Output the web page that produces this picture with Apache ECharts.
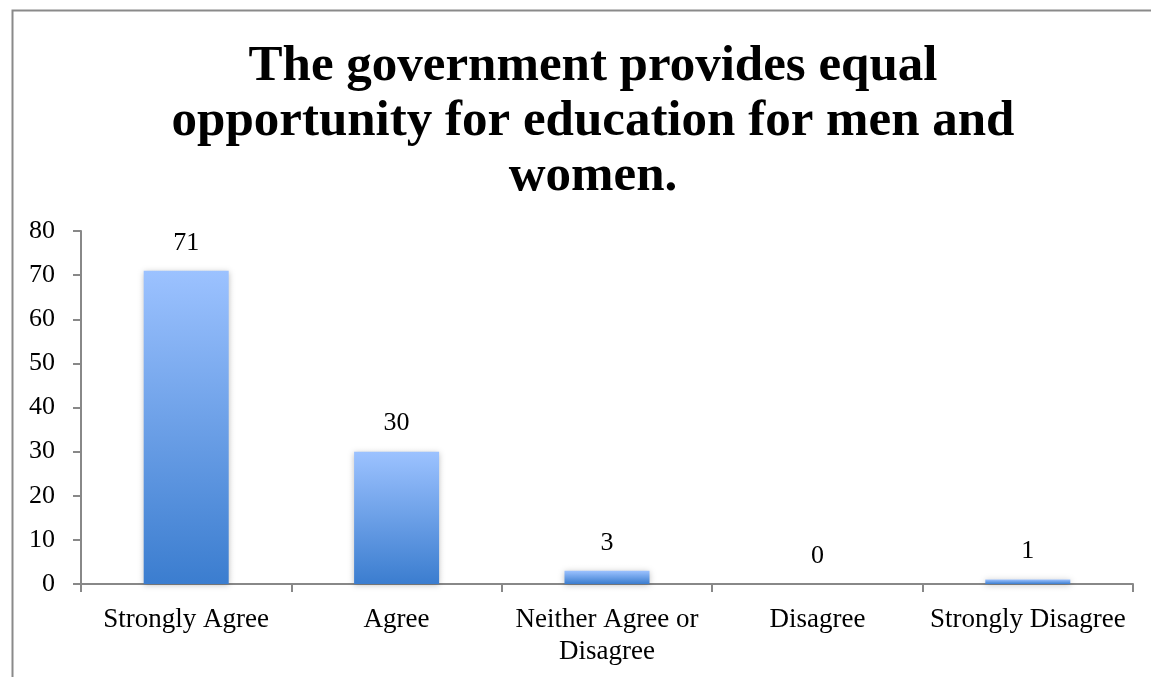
<!DOCTYPE html>
<html>
<head>
<meta charset="utf-8">
<script src="https://cdn.jsdelivr.net/npm/echarts@6/dist/echarts.min.js"></script>
<style>
  html, body { margin: 0; padding: 0; background: #fff; }
  #chart { width: 1151px; height: 677px; }
</style>
</head>
<body>
<div id="chart"></div>
<script>
// Survey responses
const categories = ['Strongly Agree', 'Agree', 'Neither Agree or\nDisagree', 'Disagree', 'Strongly Disagree'];
const counts = [71, 30, 3, 0, 1];
const yTicks = { min: 0, max: 80, interval: 10 };
const titleText = 'The government provides equal\nopportunity for education for men and\nwomen.';

const serif = 'Liberation Serif, DejaVu Serif, serif';
const chart = echarts.init(document.getElementById('chart'));

chart.setOption({
  animation: false,
  backgroundColor: '#ffffff',
  graphic: [{
    type: 'rect',
    left: 10, top: 8,
    shape: { width: 1300, height: 1000 },
    style: { fill: 'none', stroke: '#8a8a8a', lineWidth: 2 },
    silent: true
  }],
  title: {
    text: titleText,
    left: 588,
    top: 34,
    textAlign: 'center',
    textStyle: {
      fontFamily: serif,
      fontWeight: 'bold',
      fontSize: 51,
      lineHeight: 55,
      color: '#000'
    }
  },
  grid: { left: 81, right: 18, top: 231, bottom: 93 },
  xAxis: {
    type: 'category',
    data: categories,
    axisLine: { lineStyle: { color: '#888', width: 2 } },
    axisTick: { show: true, alignWithLabel: false, length: 8, lineStyle: { color: '#888', width: 2 } },
    axisLabel: {
      color: '#000', fontFamily: serif, fontSize: 27, margin: 20, lineHeight: 32, interval: 0
    }
  },
  yAxis: {
    type: 'value',
    min: yTicks.min, max: yTicks.max, interval: yTicks.interval,
    axisLine: { show: true, lineStyle: { color: '#888', width: 2 } },
    axisTick: { show: true, length: 8, lineStyle: { color: '#888', width: 2 } },
    splitLine: { show: false },
    axisLabel: { color: '#000', fontFamily: serif, fontSize: 26, margin: 26 }
  },
  series: [{
    type: 'bar',
    data: counts,
    barWidth: 85,
    itemStyle: {
      color: new echarts.graphic.LinearGradient(0, 0, 0, 1, [
        { offset: 0, color: '#9cc2ff' },
        { offset: 1, color: '#3b7dcf' }
      ]),
      shadowColor: 'rgba(0,0,0,0.25)',
      shadowBlur: 6,
      shadowOffsetY: 1
    },
    label: {
      show: true,
      position: 'top',
      distance: 15,
      color: '#000',
      fontFamily: serif,
      fontSize: 26
    }
  }]
});
</script>
</body>
</html>
